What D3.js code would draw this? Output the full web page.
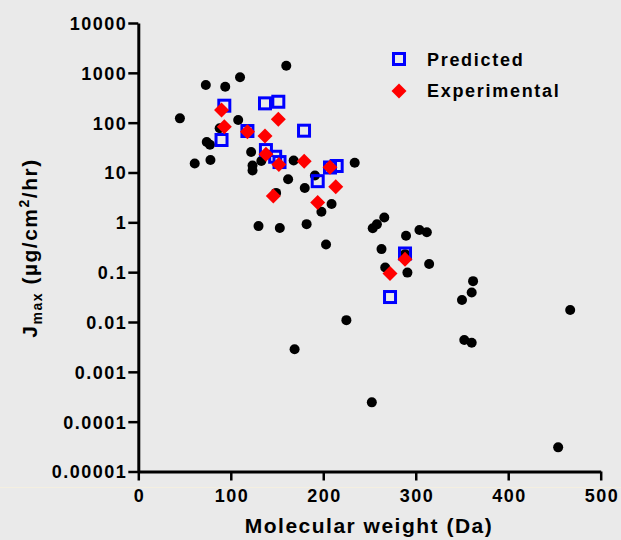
<!DOCTYPE html>
<html>
<head>
<meta charset="utf-8">
<script src="https://cdn.jsdelivr.net/npm/d3@7"></script>
<style>
html,body{margin:0;padding:0;background:#eaeaea;}
svg{display:block;}
text{font-family:"Liberation Sans",Arial,sans-serif;font-weight:bold;fill:#000;}
</style>
</head>
<body>
<svg id="chart" width="621" height="540"></svg>
<script>
// ---- data ----
const xTicks = [0, 100, 200, 300, 400, 500];
const yTicks = [1e4, 1e3, 1e2, 1e1, 1, 0.1, 0.01, 0.001, 0.0001, 0.00001];
const yTickLabels = ["10000", "1000", "100", "10", "1", "0.1", "0.01", "0.001", "0.0001", "0.00001"];

// all compounds (black dots)
const mwAll = [45, 73, 94, 110, 160, 108, 88, 74, 77.5, 78, 61, 122, 133, 123.5, 123.5, 168, 162, 191, 180, 149,
  209, 198, 234, 130, 153, 182, 203, 266, 258, 253.5, 304, 312, 289.5, 263, 288.5, 314.5, 267, 291, 362, 360.5,
  350, 467, 225, 352.5, 360.5, 169, 252.5, 454];
const jAll = [122, 569, 526, 813, 1390, 113, 77, 41, 36, 17.8, 15.1, 25.8, 17, 13.8, 11, 17.4, 7.3, 8.7, 4.9, 3.9,
  2.33, 1.63, 15.7, 0.84, 0.77, 0.92, 0.36, 1.25, 0.91, 0.76, 0.70, 0.63, 0.54, 0.29, 0.23, 0.146, 0.124, 0.098, 0.066, 0.039,
  0.0276, 0.0174, 0.0109, 0.00434, 0.00384, 0.00283, 0.000244, 0.0000305];

// Predicted (blue squares)
const mwPred = [93, 137, 151.4, 118, 90, 138, 148, 152.7, 207.3, 214.5, 194, 179.2, 288.4, 272.2];
const jPred = [219, 244, 263, 68, 44.9, 28.2, 20.7, 16.2, 12.6, 13.5, 6.7, 69, 0.237, 0.0317];

// Experimental (red diamonds)
const mwExp = [90, 151.4, 93, 118, 137, 138, 152, 179.4, 207.3, 213.5, 146, 194, 288.4, 272.2];
const jExp = [179, 117, 83, 66, 54, 23.2, 14.5, 16.8, 12.7, 5.2, 3.37, 2.5, 0.181, 0.094];

const seriesNames = ["Predicted", "Experimental"];

// ---- chart ----
const svg = d3.select("#chart");
svg.append("rect").attr("width", 621).attr("height", 540).attr("fill", "#eaeaea");
svg.append("line").attr("x1", 0).attr("x2", 621).attr("y1", 487.5).attr("y2", 487.5)
  .attr("stroke", "#f4efe0").attr("stroke-width", 1);

const x = d3.scaleLinear().domain([0, 500]).range([138.3, 600.7]);
const y = d3.scaleLog().domain([1e-5, 1e4]).range([471.5, 23]);

// x axis
const gx = svg.append("g").attr("transform", `translate(0,${y(1e-5)})`)
  .call(d3.axisBottom(x).tickValues(xTicks).tickFormat(d3.format("d")).tickSize(9).tickSizeOuter(0));
gx.select(".domain").attr("stroke", "#000").attr("stroke-width", 3);
gx.selectAll(".tick line").attr("stroke", "#000").attr("stroke-width", 2.5);
gx.selectAll(".tick text").attr("y", 30).attr("dy", 0).attr("dx", 0.8)
  .style("font-size", "18px").style("letter-spacing", "1.5px");

// y axis
const gy = svg.append("g").attr("transform", `translate(${x(0)},0)`)
  .call(d3.axisLeft(y).tickValues(yTicks).tickFormat((d, i) => yTickLabels[i]).tickSize(10).tickSizeOuter(0));
gy.select(".domain").attr("stroke", "#000").attr("stroke-width", 3);
gy.selectAll(".tick line").attr("stroke", "#000").attr("stroke-width", 2.5);
gy.selectAll(".tick text").attr("x", -11).attr("dy", "0.36em")
  .style("font-size", "18px").style("letter-spacing", "1.5px");

// axis titles
svg.append("text").attr("x", 369).attr("y", 533).attr("text-anchor", "middle")
  .style("font-size", "21px").style("letter-spacing", "1.5px").text("Molecular weight (Da)");

const yt = svg.append("text").attr("transform", "translate(37,248) rotate(-90)")
  .attr("text-anchor", "middle").style("font-size", "21px").style("letter-spacing", "1.5px");
yt.append("tspan").text("J");
yt.append("tspan").attr("dy", 5).style("font-size", "14px").text("max");
yt.append("tspan").attr("dy", -5).text(" (µg/cm");
yt.append("tspan").attr("dy", -8).style("font-size", "14px").text("2");
yt.append("tspan").attr("dy", 8).text("/hr)");

// points
const allData = mwAll.map((m, i) => ({ m, j: jAll[i] }));
const predData = mwPred.map((m, i) => ({ m, j: jPred[i] }));
const expData = mwExp.map((m, i) => ({ m, j: jExp[i] }));

svg.append("g").selectAll("circle").data(allData).join("circle")
  .attr("cx", d => x(d.m)).attr("cy", d => y(d.j)).attr("r", 5).attr("fill", "#000");

const sq = 11;
svg.append("g").selectAll("rect").data(predData).join("rect")
  .attr("x", d => x(d.m) - sq / 2).attr("y", d => y(d.j) - sq / 2)
  .attr("width", sq).attr("height", sq)
  .attr("fill", "none").attr("stroke", "#0000ff").attr("stroke-width", 3);

const dh = 7.5;
const diamond = (cx, cy) => `M${cx},${cy - dh}L${cx + dh},${cy}L${cx},${cy + dh}L${cx - dh},${cy}Z`;
svg.append("g").selectAll("path").data(expData).join("path")
  .attr("d", d => diamond(x(d.m), y(d.j))).attr("fill", "#ff0000");

// legend
const lg = svg.append("g");
lg.append("rect").attr("x", 399 - sq / 2).attr("y", 59 - sq / 2).attr("width", sq).attr("height", sq)
  .attr("fill", "none").attr("stroke", "#0000ff").attr("stroke-width", 3);
lg.append("path").attr("d", diamond(399, 91)).attr("fill", "#ff0000");
lg.append("text").attr("x", 427).attr("y", 65.5).style("font-size", "18px").style("letter-spacing", "1.7px").text(seriesNames[0]);
lg.append("text").attr("x", 427).attr("y", 96.8).style("font-size", "18px").style("letter-spacing", "1.7px").text(seriesNames[1]);
</script>
</body>
</html>
